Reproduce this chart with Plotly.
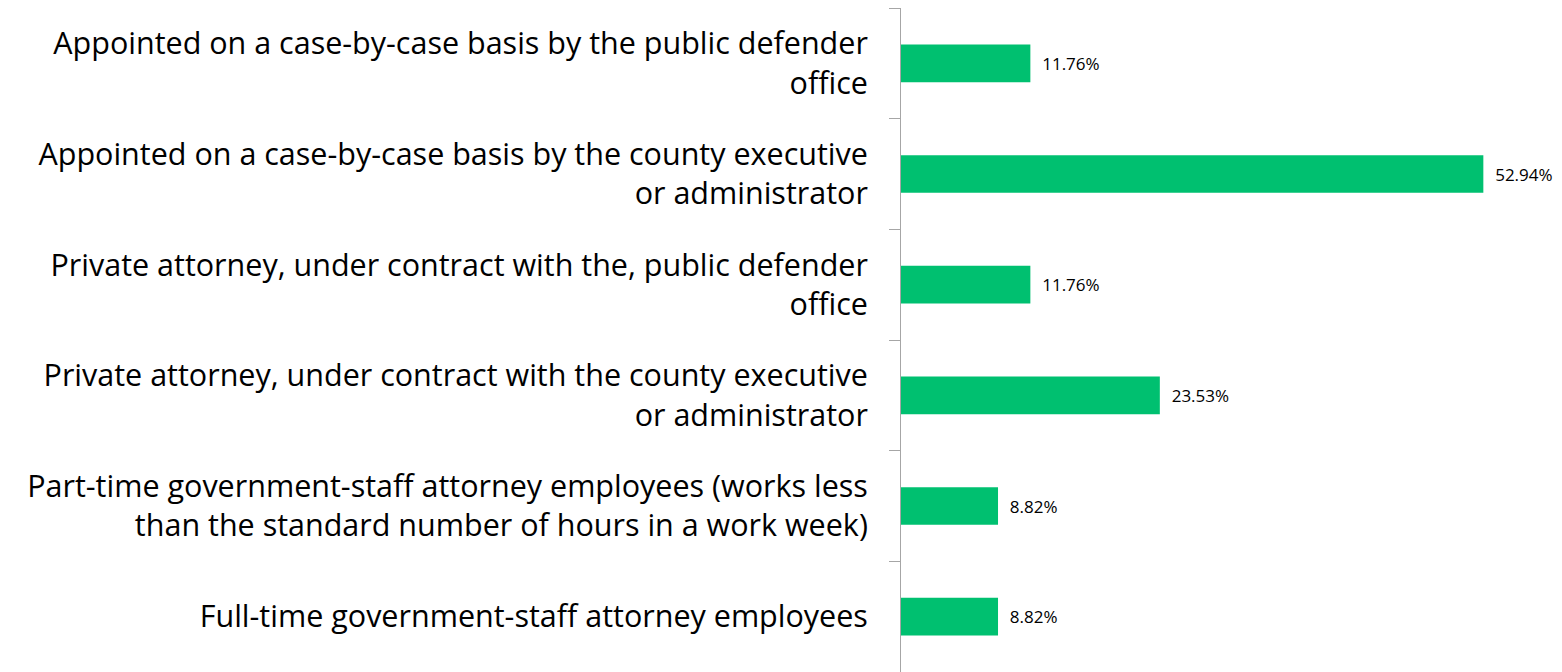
import plotly.graph_objects as go

categories = [
    "Appointed on a case-by-case basis by the public defender<br>office",
    "Appointed on a case-by-case basis by the county executive<br>or administrator",
    "Private attorney, under contract with the, public defender<br>office",
    "Private attorney, under contract with the county executive<br>or administrator",
    "Part-time government-staff attorney employees (works less<br>than the standard number of hours in a work week)",
    "Full-time government-staff attorney employees",
]
values = [11.76, 52.94, 11.76, 23.53, 8.82, 8.82]
value_labels = ["11.76%", "52.94%", "11.76%", "23.53%", "8.82%", "8.82%"]

fig = go.Figure(
    go.Bar(
        x=values,
        y=categories,
        orientation="h",
        marker=dict(color="#00C070", line=dict(width=0)),
        width=0.34,
        text=["\u00a0\u00a0" + t for t in value_labels],
        textposition="outside",
        textfont=dict(family="Open Sans, sans-serif", size=17, color="#000000"),
        cliponaxis=False,
    )
)

fig.update_layout(
    width=1554,
    height=664,
    margin=dict(l=893, r=1, t=0, b=0),
    paper_bgcolor="white",
    plot_bgcolor="white",
    showlegend=False,
)
fig.update_xaxes(
    range=[0, 60],
    showgrid=False,
    zeroline=False,
    showticklabels=False,
    showline=False,
    ticks="",
)
fig.update_yaxes(
    type="category",
    range=[5.5, -0.5],
    tickson="boundaries",
    ticks="outside",
    ticklen=11,
    tickcolor="#A6A6A6",
    tickwidth=1,
    showline=True,
    linecolor="#A6A6A6",
    linewidth=1,
    showgrid=False,
    zeroline=False,
    ticklabelstandoff=26,
    tickfont=dict(family="Open Sans, sans-serif", size=30.5, color="#000000"),
)

fig.write_html("out.html")
